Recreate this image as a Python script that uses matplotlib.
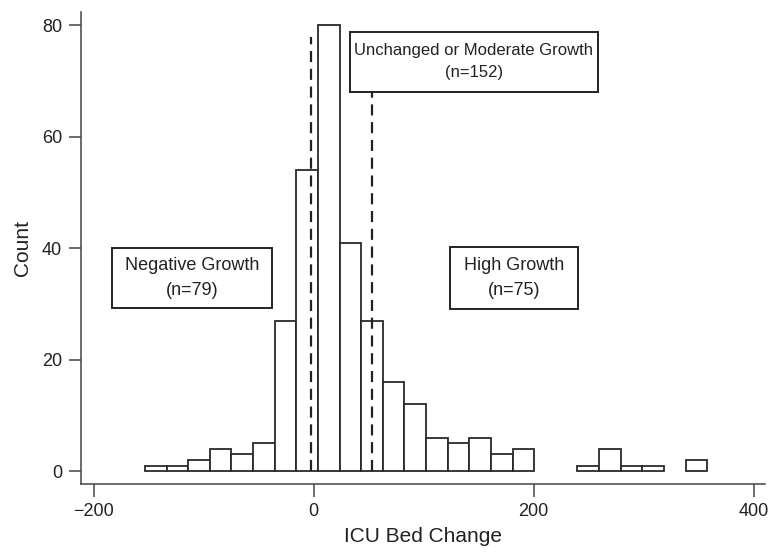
import numpy as np
import matplotlib
matplotlib.use("Agg")
import matplotlib.pyplot as plt
from matplotlib.patches import Rectangle

plt.rcParams['font.family'] = ['Liberation Sans', 'DejaVu Sans']

# histogram of ICU bed change (26 bins)
bin_start = -153.4
bin_width = 19.66
counts = [1, 1, 2, 4, 3, 5, 27, 54, 80, 41, 27, 16, 12, 6, 5, 6, 3, 4,
          0, 0, 1, 4, 1, 1, 0, 2]

# group cutoffs (dashed lines)
cutoffs = [-2, 53]
cutoff_top = 78

# annotation boxes: label, x0, x1, y0, y1
box_labels = ["Negative Growth\n(n=79)",
              "Unchanged or Moderate Growth\n(n=152)",
              "High Growth\n(n=75)"]
box_x = [(-183.1, -37.6), (33.0, 258.5), (123.9, 240.0)]
box_y = [(29.2, 40.0), (68.1, 78.9), (29.1, 40.2)]
box_fs = [13, 12, 13]

xticks = [-200, 0, 200, 400]
yticks = [0, 20, 40, 60, 80]

ink = '#222222'

fig = plt.figure(figsize=(7.71, 5.52), dpi=100)
ax = fig.add_axes([81 / 771, 68 / 552, (765 - 81) / 771, (484 - 12) / 552])

edges = bin_start + bin_width * np.arange(len(counts) + 1)
nonzero = [i for i, c in enumerate(counts) if c > 0]
ax.bar(edges[:-1][nonzero], np.array(counts)[nonzero], width=bin_width,
       align='edge', facecolor='white', edgecolor='#2a2a2a', linewidth=1.3,
       zorder=2)

ax.vlines(cutoffs, 0, cutoff_top, colors='#222222', linestyles=(0, (5, 3)),
          linewidth=1.6, zorder=3)

for lab, (x0, x1), (y0, y1), fs in zip(box_labels, box_x, box_y, box_fs):
    ax.add_patch(Rectangle((x0, y0), x1 - x0, y1 - y0, facecolor='white',
                           edgecolor='#222222', linewidth=1.4, zorder=4))
    ax.text((x0 + x1) / 2, (y0 + y1) / 2, lab, ha='center', va='center',
            multialignment='center', fontsize=fs, color=ink,
            linespacing=1.6, zorder=5)

ax.set_xlim(-211.5, 410.3)
ax.set_ylim(-2.3, 82.4)
ax.set_xticks(xticks)
ax.set_yticks(yticks)

for s in ['top', 'right']:
    ax.spines[s].set_visible(False)
for s in ['left', 'bottom']:
    ax.spines[s].set_color('#444444')
    ax.spines[s].set_linewidth(1.1)

ax.tick_params(axis='both', direction='out', length=9, width=1.1,
               color='#444444', labelsize=13, labelcolor=ink, pad=4.5)

ax.set_xlabel('ICU Bed Change', fontsize=15, color=ink, labelpad=5)
ax.set_ylabel('Count', fontsize=15, color=ink, labelpad=7)

fig.savefig('out.png', dpi=100)
